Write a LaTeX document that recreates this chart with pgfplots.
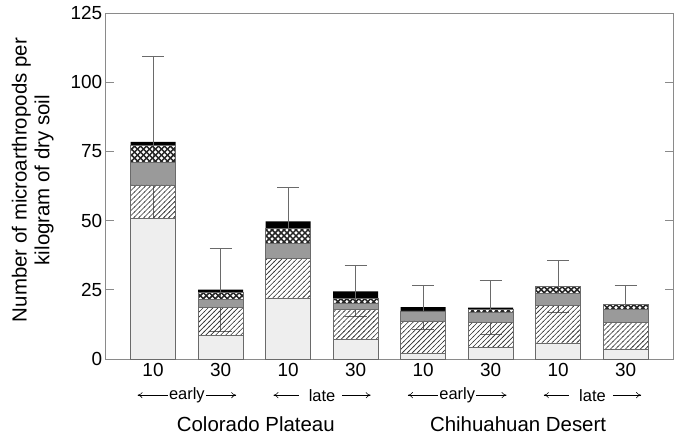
\documentclass[border=0pt]{standalone}
\usepackage{pgfplots}
\pgfplotsset{compat=1.18}
\usepackage{fontspec}
\setmainfont{Liberation Sans}
\usetikzlibrary{patterns,arrows.meta}
\definecolor{lgray}{HTML}{EEEEEE}
\definecolor{mgray}{HTML}{9A9A9A}
\definecolor{edge}{HTML}{6A6A6A}
\definecolor{axc}{HTML}{8A8A8A}
\pgfdeclarepatternformonly{nelines}{\pgfpoint{-1pt}{-1pt}}{\pgfpoint{6pt}{6pt}}{\pgfpoint{5pt}{5pt}}%
{\pgfsetlinewidth{0.6pt}
 \pgfpathmoveto{\pgfpoint{-0.5pt}{-0.5pt}}\pgfpathlineto{\pgfpoint{5.5pt}{5.5pt}}
 \pgfusepath{stroke}}
\pgfdeclarepatternformonly{xhatch}{\pgfpoint{-1pt}{-1pt}}{\pgfpoint{7pt}{7pt}}{\pgfpoint{6pt}{6pt}}%
{\pgfsetlinewidth{1.5pt}
 \pgfpathmoveto{\pgfpoint{-0.5pt}{-0.5pt}}\pgfpathlineto{\pgfpoint{6.5pt}{6.5pt}}
 \pgfpathmoveto{\pgfpoint{-0.5pt}{6.5pt}}\pgfpathlineto{\pgfpoint{6.5pt}{-0.5pt}}
 \pgfusepath{stroke}}
\begin{document}
\begin{tikzpicture}
\begin{axis}[
  scale only axis, width=567bp, height=346bp,
  ybar stacked, bar width=45bp,
  xmin=-0.7, xmax=7.7, ymin=0, ymax=125,
  xtick=data, xticklabels={10,30,10,30,10,30,10,30},
  ytick={0,25,50,75,100,125},
  major x tick style={draw=none},
  tick align=inside, major tick length=8bp,
  ytick pos=both,
  axis line style={axc, line width=0.9pt},
  tick style={axc, line width=0.9pt},
  /pgf/number format/assume math mode=true,
  tick label style={font=\fontsize{19}{21}\selectfont},
  xticklabel style={yshift=-1bp},
  clip=false,
  every axis plot/.append style={draw=edge, line width=0.6pt},
]
\addplot[fill=lgray] coordinates {(0,50.7) (1,8.6) (2,22.1) (3,7.1) (4,2.0) (5,4.2) (6,5.9) (7,3.6)};
\addplot[pattern=nelines, pattern color=black!80] coordinates {(0,12.2) (1,10.2) (2,14.2) (3,11.0) (4,11.8) (5,9.0) (6,13.6) (7,9.6)};
\addplot[fill=mgray] coordinates {(0,8.2) (1,2.7) (2,5.6) (3,1.9) (4,3.6) (5,3.6) (6,4.2) (7,4.7)};
\addplot[pattern=xhatch, pattern color=black!85] coordinates {(0,6.0) (1,2.8) (2,5.4) (3,1.8) (4,0) (5,1.1) (6,2.5) (7,1.9)};
\addplot[fill=black, draw=none,
  error bars/.cd, y dir=both, y explicit,
  error bar style={edge, line width=0.8pt},
  error mark options={edge, rotate=90, mark size=11bp, line width=0.8pt}]
  coordinates {(0,1.4) +- (0,31) (1,0.8) +- (0,15) (2,2.5) +- (0,12.2) (3,2.7) +- (0,9.2)
               (4,1.4) +- (0,8) (5,0.7) +- (0,9.7) (6,0) +- (0,9.3) (7,0) +- (0,6.7)};
\end{axis}
\begin{scope}[x={(67.57bp,0)}, y={(0,2.768bp)}, shift={(current axis.south west)}, xshift=47.3bp]
\begin{scope}[font=\fontsize{16.5}{18}\selectfont, line width=0.55pt]
\draw[{To[length=5bp,width=6bp]}-] (-0.23,-13) -- (0.22,-13);
\node at (0.5,-13) {early};
\draw[-{To[length=5bp,width=6bp]}] (0.78,-13) -- (1.23,-13);
\draw[{To[length=5bp,width=6bp]}-] (1.78,-13) -- (2.16,-13);
\node at (2.5,-13) {late};
\draw[-{To[length=5bp,width=6bp]}] (2.8,-13) -- (3.22,-13);
\draw[{To[length=5bp,width=6bp]}-] (3.77,-13) -- (4.22,-13);
\node at (4.5,-13) {early};
\draw[-{To[length=5bp,width=6bp]}] (4.78,-13) -- (5.23,-13);
\draw[{To[length=5bp,width=6bp]}-] (5.78,-13) -- (6.16,-13);
\node at (6.5,-13) {late};
\draw[-{To[length=5bp,width=6bp]}] (6.8,-13) -- (7.22,-13);
\end{scope}
\node[font=\fontsize{20.5}{22}\selectfont] at (1.52,-23.6) {Colorado Plateau};
\node[font=\fontsize{20.5}{22}\selectfont] at (5.4,-23.6) {Chihuahuan Desert};
\end{scope}
\node[rotate=90, align=center, font=\fontsize{20.5}{23}\selectfont] at ([xshift=-73bp,yshift=6bp]current axis.west)
  {Number of microarthropods per\\kilogram of dry soil};
\path ([xshift=-105.7bp,yshift=-77bp]current axis.south west) rectangle ([xshift=8bp,yshift=13bp]current axis.north east);
\end{tikzpicture}
\end{document}
